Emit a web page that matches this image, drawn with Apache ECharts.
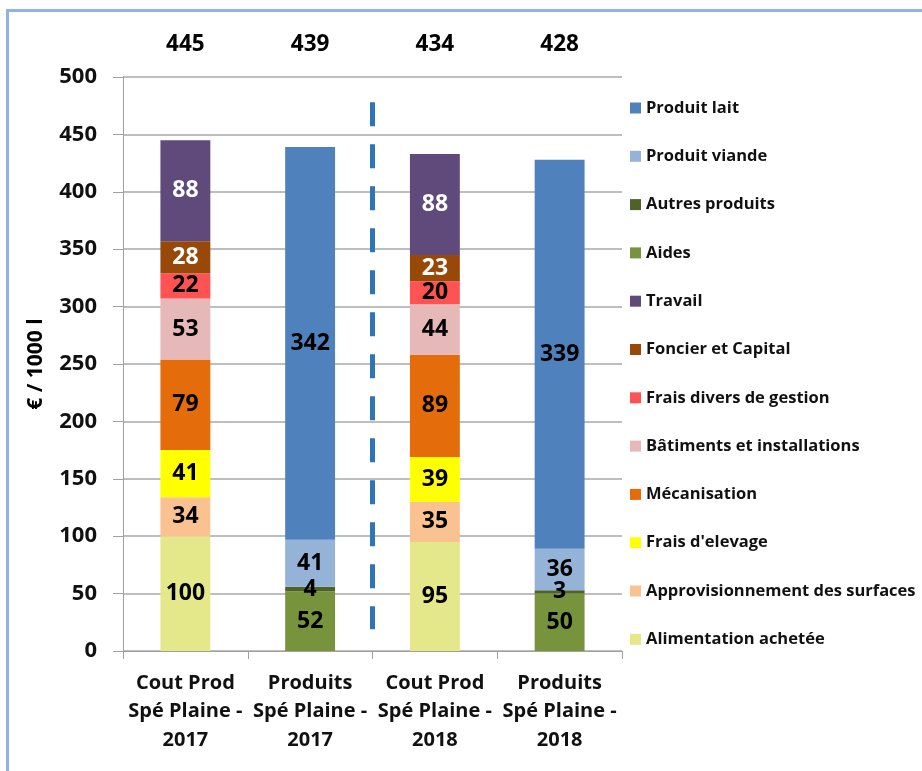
<!DOCTYPE html>
<html>
<head>
<meta charset="utf-8">
<script src="https://cdn.jsdelivr.net/npm/echarts@6/dist/echarts.min.js"></script>
<style>
  html, body { margin: 0; padding: 0; background: #fff; }
  #chart { width: 922px; height: 771px; }
  #frame { position: absolute; left: 6px; top: 9px; width: 916px; height: 762px;
           border-left: 3px solid #8eb4e3; border-top: 3px solid #8eb4e3; pointer-events: none; box-sizing: border-box; }
</style>
</head>
<body>
<div id="chart"></div>
<div id="frame"></div>
<script>
const categories = ['Cout Prod\nSpé Plaine -\n2017', 'Produits\nSpé Plaine -\n2017', 'Cout Prod\nSpé Plaine -\n2018', 'Produits\nSpé Plaine -\n2018'];
const totals = ['445', '439', '434', '428'];
const yTicks = { min: 0, max: 500, interval: 50 };

// cost components (bottom to top)
const alimentation   = [100, null, 95, null];
const approvisionnement = [34, null, 35, null];
const fraisElevage   = [41, null, 39, null];
const mecanisation   = [79, null, 89, null];
const batiments      = [53, null, 44, null];
const fraisDivers    = [22, null, 20, null];
const foncier        = [28, null, 23, null];
const travail        = [88, null, 88, null];
// product components (bottom to top)
const aides          = [null, 52, null, 50];
const autresProduits = [null, 4, null, 3];
const produitViande  = [null, 41, null, 36];
const produitLait    = [null, 342, null, 339];

// separator between 2017 and 2018 (x in category-boundary units, y in €/1000 l)
const separator = [[2, 478], [2, 19]];

const legendOrder = ['Produit lait', 'Produit viande', 'Autres produits', 'Aides', 'Travail', 'Foncier et Capital',
  'Frais divers de gestion', 'Bâtiments et installations', 'Mécanisation', "Frais d'elevage",
  'Approvisionnement des surfaces', 'Alimentation achetée'];

const FONT = 'Open Sans';
const labelStyle = (color) => ({
  show: true, position: 'inside', color: color, fontFamily: FONT, fontWeight: 'bold', fontSize: 23,
  formatter: (p) => p.value
});

function bar(name, data, color, labelColor) {
  return {
    name: name, type: 'bar', stack: 'total', data: data, barWidth: '40%',
    itemStyle: { color: color },
    label: labelStyle(labelColor || '#000'),
    emphasis: { disabled: true }
  };
}

const chart = echarts.init(document.getElementById('chart'));
chart.setOption({
  animation: false,
  textStyle: { fontFamily: FONT },
  grid: { left: 123, right: 300, top: 77, bottom: 120 },
  legend: {
    data: legendOrder, orient: 'vertical', left: 630, top: 99, padding: 0,
    itemWidth: 11, itemHeight: 11, itemGap: 30.3, icon: 'rect',
    textStyle: { fontFamily: FONT, fontWeight: 'bold', fontSize: 16.5, color: '#111', lineHeight: 18 },
    selectedMode: false
  },
  xAxis: [
    {
      type: 'category', data: categories, position: 'bottom',
      axisLine: { lineStyle: { color: '#a0a0a0', width: 1 } },
      axisTick: { show: true, length: 8, lineStyle: { color: '#a0a0a0' } },
      axisLabel: { color: '#111', fontFamily: FONT, fontWeight: 'bold', fontSize: 20, lineHeight: 28.5, margin: 18, interval: 0 }
    },
    { type: 'value', min: 0, max: 4, show: false },
    {
      type: 'category', data: totals, position: 'top',
      axisLine: { show: false }, axisTick: { show: false },
      axisLabel: { color: '#000', fontFamily: FONT, fontWeight: 'bold', fontSize: 22.5, lineHeight: 22, margin: 21, interval: 0 }
    }
  ],
  yAxis: {
    type: 'value', min: yTicks.min, max: yTicks.max, interval: yTicks.interval,
    name: '€ / 1000 l', nameLocation: 'middle', nameGap: 76, nameRotate: 90,
    nameTextStyle: { color: '#000', fontFamily: FONT, fontWeight: 'bold', fontSize: 21 },
    axisLine: { show: true, lineStyle: { color: '#a0a0a0' } },
    axisTick: { show: true, inside: false, length: 10, lineStyle: { color: '#a0a0a0' } },
    axisLabel: { color: '#111', fontFamily: FONT, fontWeight: 'bold', fontSize: 22, margin: 26 },
    splitLine: { lineStyle: { color: '#a8a8a8', width: 1.5 } }
  },
  series: [
    bar('Alimentation achetée', alimentation, '#e5e78b'),
    bar('Approvisionnement des surfaces', approvisionnement, '#fac191'),
    bar("Frais d'elevage", fraisElevage, '#ffff00'),
    bar('Mécanisation', mecanisation, '#e46c0a'),
    bar('Bâtiments et installations', batiments, '#e6b9b8'),
    bar('Frais divers de gestion', fraisDivers, '#ff5353'),
    bar('Foncier et Capital', foncier, '#984807', '#fff'),
    bar('Travail', travail, '#604a7b', '#fff'),
    bar('Aides', aides, '#77933c'),
    bar('Autres produits', autresProduits, '#4f6228'),
    bar('Produit viande', produitViande, '#95b3d7'),
    bar('Produit lait', produitLait, '#4f81bd'),
    {
      name: 'separator', type: 'line', xAxisIndex: 1, data: separator,
      symbol: 'none', silent: true,
      lineStyle: { color: '#2e75b6', width: 5, type: [24, 18] },
      z: 5
    }
  ]
});
</script>
</body>
</html>
